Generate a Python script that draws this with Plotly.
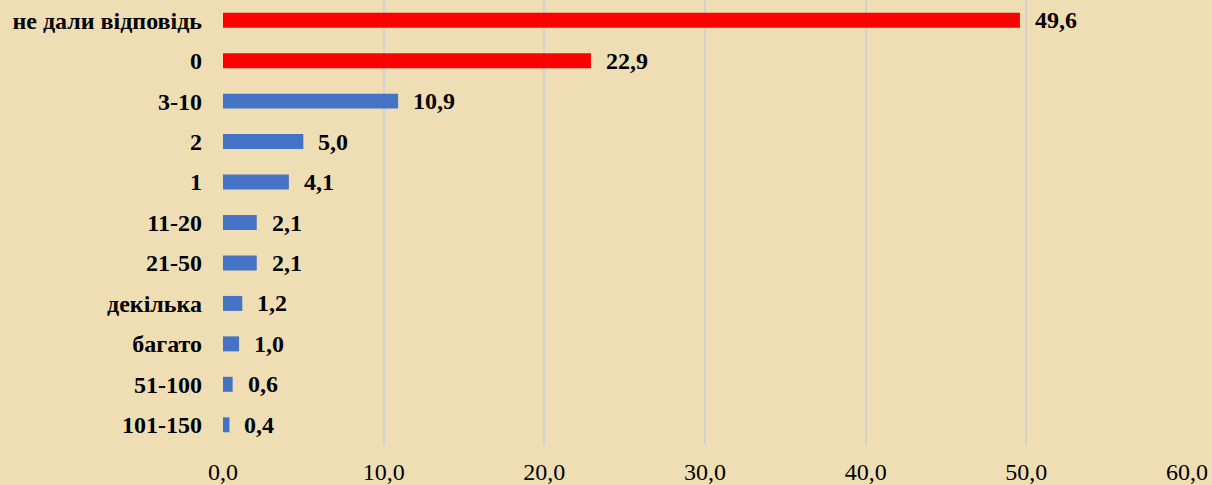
import plotly.graph_objects as go

categories = ["не дали відповідь", "0", "3-10", "2", "1", "11-20", "21-50",
              "декілька", "багато", "51-100", "101-150"]
values = [49.6, 22.9, 10.9, 5.0, 4.1, 2.1, 2.1, 1.2, 1.0, 0.6, 0.4]
highlight = ["не дали відповідь", "0"]

colors = ["#FF0000" if c in highlight else "#4472C4" for c in categories]
positions = list(range(len(categories)))

fig = go.Figure()
fig.add_trace(go.Bar(
    x=values, y=positions, orientation="h",
    marker=dict(color=colors, line=dict(width=0)),
    width=0.37,
    hoverinfo="skip",
))

for i, v in zip(positions, values):
    fig.add_annotation(
        x=v, y=i, xref="x", yref="y", text=f"{v:.1f}".replace(".", ","),
        xanchor="left", yanchor="middle", xshift=13, showarrow=False,
        font=dict(family="Liberation Serif", size=24, color="black", weight="bold"),
    )

fig.update_layout(
    width=1212, height=485,
    margin=dict(l=223, r=25, t=0, b=40),
    paper_bgcolor="#EFDEB4",
    plot_bgcolor="#EFDEB4",
    separators=", ",
    showlegend=False,
    xaxis=dict(
        range=[0, 60], dtick=10, tickformat=".1f",
        showgrid=True, gridcolor="#D3D1CE", gridwidth=2,
        zeroline=False, showline=False,
        tickfont=dict(family="Liberation Serif", size=24, color="black"),
        ticklabelstandoff=10,
        automargin=False,
    ),
    yaxis=dict(
        range=[len(categories) - 0.5, -0.5],
        tickmode="array", tickvals=positions, ticktext=categories,
        showgrid=False, zeroline=False, showline=False,
        tickfont=dict(family="Liberation Serif", size=24, color="black", weight="bold"),
        ticklabelstandoff=20,
        automargin=False,
    ),
)

fig.write_html("out.html", config={"displayModeBar": False},
               post_script="document.body.style.margin='0';document.body.style.overflow='hidden';")
